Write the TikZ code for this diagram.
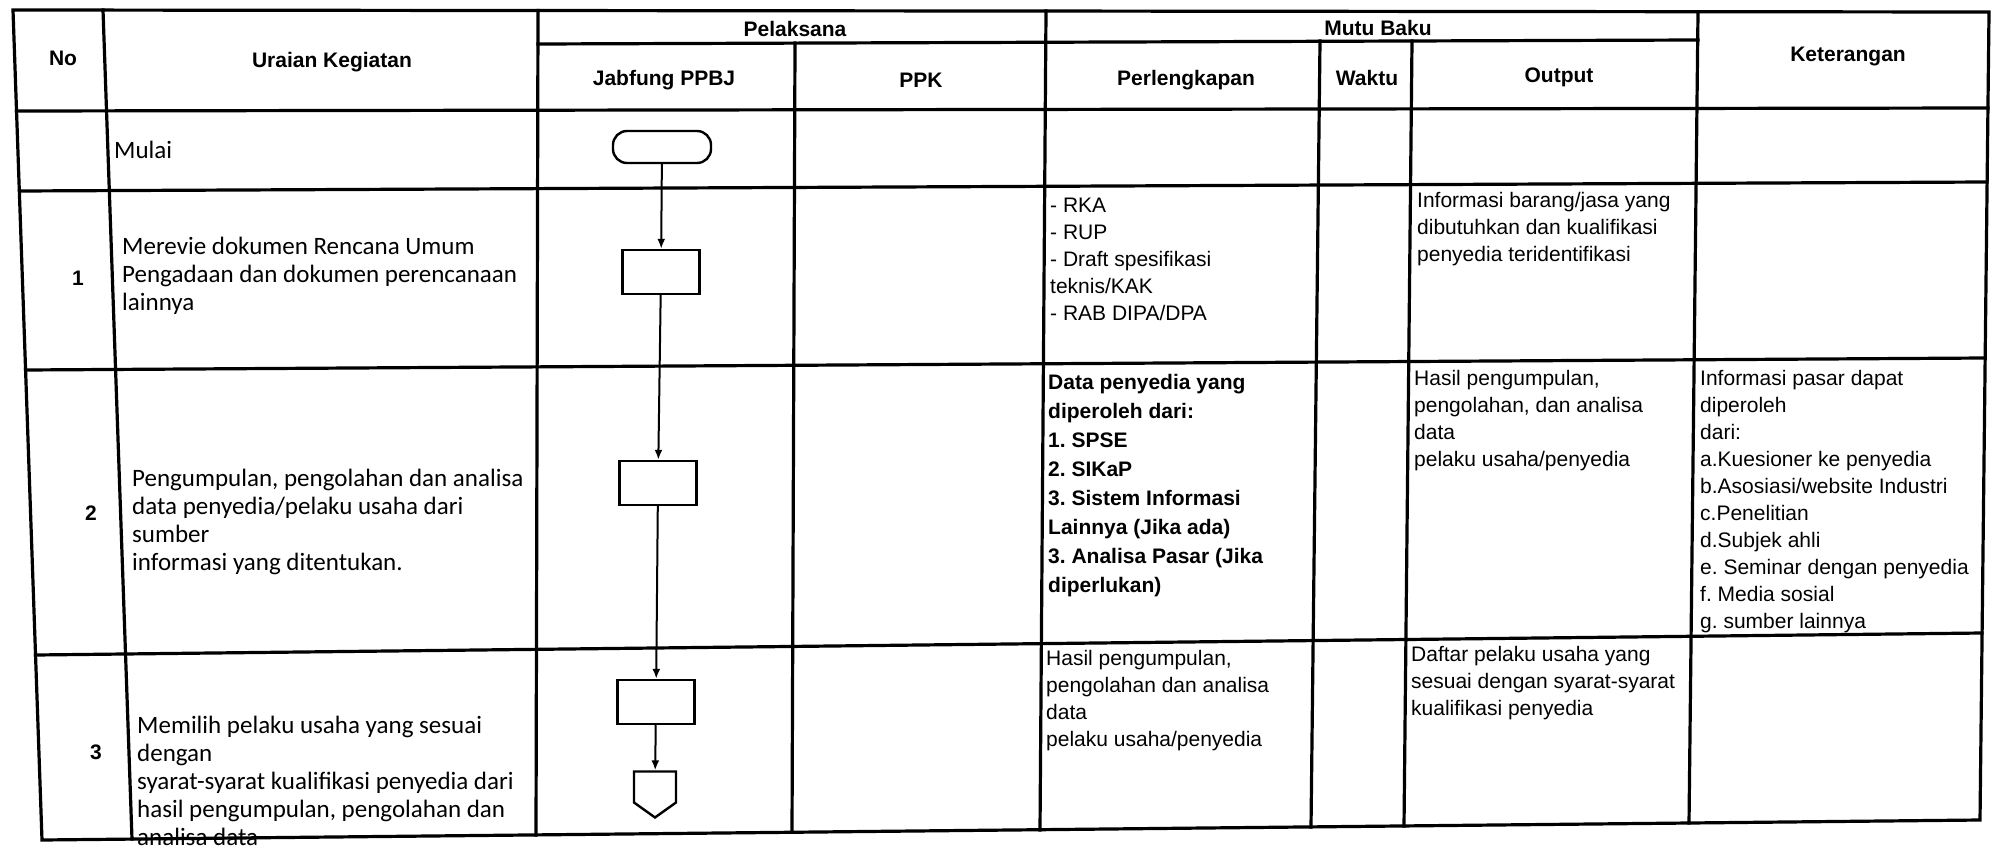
\documentclass[tikz,border=0pt]{standalone}
\usepackage{fontspec}
\setmainfont{Liberation Sans}
\newfontfamily\urfont{Carlito}
\frenchspacing
\usetikzlibrary{backgrounds}
\usetikzlibrary{shapes.symbols}
\usetikzlibrary{arrows.meta}
\newcommand{\tblxat}{13}
\newcommand{\tblxab}{42}
\newcommand{\tblxbt}{103}
\newcommand{\tblxbb}{132}
\newcommand{\tblxct}{538}
\newcommand{\tblxcb}{536}
\newcommand{\tblxdt}{795}
\newcommand{\tblxdb}{792}
\newcommand{\tblxet}{1046}
\newcommand{\tblxeb}{1040}
\newcommand{\tblxft}{1320}
\newcommand{\tblxfb}{1311}
\newcommand{\tblxgt}{1412}
\newcommand{\tblxgb}{1404}
\newcommand{\tblxht}{1698}
\newcommand{\tblxhb}{1689}
\newcommand{\tblxit}{1989}
\newcommand{\tblxib}{1980}
\newcommand{\tblyal}{10}
\newcommand{\tblyar}{12}
\newcommand{\tblybl}{44}
\newcommand{\tblybr}{40}
\newcommand{\tblycl}{111}
\newcommand{\tblycr}{108}
\newcommand{\tblydl}{191}
\newcommand{\tblydr}{182}
\newcommand{\tblyel}{370}
\newcommand{\tblyer}{358}
\newcommand{\tblyfl}{655}
\newcommand{\tblyfr}{633}
\newcommand{\tblygl}{840}
\newcommand{\tblygr}{820}
\tikzset{
  hdr/.style={font=\bfseries\fontsize{21}{25}\selectfont, inner sep=0pt},
  nocell/.style={font=\bfseries\fontsize{21}{25}\selectfont, inner sep=0pt},
  cell/.style={anchor=north west, align=left, inner sep=0pt,
    font=\fontsize{21}{27}\selectfont},
  cellb/.style={cell, font=\bfseries\fontsize{21}{29}\selectfont},
  urcell/.style={anchor=north west, align=left, inner sep=0pt,
    font=\urfont\fontsize{25}{28}\selectfont},
  flwbox/.style={draw, line width=2.4pt, minimum width=77pt,
    minimum height=44pt, inner sep=0pt},
  flwterm/.style={flwbox, minimum width=98pt, minimum height=32pt,
    rounded corners=14pt},
  flwconn/.style={draw, line width=2.4pt, signal, signal to=south,
    signal pointer angle=109, minimum width=42pt, minimum height=31pt,
    inner sep=0pt},
  flwarr/.style={-{Latex[length=10pt,width=8pt]}, line width=2pt},
  tblline/.style={line width=3.2pt, line cap=rect}
}
\begin{document}
\begin{tikzpicture}[x=1pt,y=-1pt,font=\fontsize{21}{27}\selectfont]
    \useasboundingbox (0,0) rectangle (1993,848);

    \node[hdr] (hno) at (63,58) {No};
    \node[hdr] (hur) at (332,62) {Uraian Kegiatan};
    \node[hdr] (hpel) at (795,29) {Pelaksana};
    \node[hdr] (hmb) at (1378,28) {Mutu Baku};
    \node[hdr] (hjab) at (664,80) {Jabfung PPBJ};
    \node[hdr] (hppk) at (921,80) {PPK};
    \node[hdr] (hperl) at (1186,80) {Perlengkapan};
    \node[hdr] (hwkt) at (1367,78) {Waktu};
    \node[hdr] (hout) at (1559,77) {Output};
    \node[hdr] (hket) at (1848,57) {Keterangan};

    \node[nocell] (noa) at (78,278) {1};
    \node[nocell] (nob) at (91,513) {2};
    \node[nocell] (noc) at (96,752) {3};

    \node[urcell, anchor=west] (urmul) at (114,150) {Mulai};
    \node[urcell] (ura) at (122,237)
      {Merevie dokumen Rencana Umum\\Pengadaan dan dokumen perencanaan\\lainnya};
    \node[urcell] (urb) at (132,469)
      {Pengumpulan, pengolahan dan analisa\\data penyedia/pelaku usaha dari\\sumber\\informasi yang ditentukan.};
    \node[urcell] (urc) at (137,716)
      {Memilih pelaku usaha yang sesuai\\dengan\\syarat-syarat kualifikasi penyedia dari\\hasil pengumpulan, pengolahan dan\\analisa data};

    \node[cell] (plka) at (1050,198)
      {- RKA\\- RUP\\- Draft spesifikasi\\teknis/KAK\\- RAB DIPA/DPA};
    \node[cellb] (plkb) at (1048,374)
      {Data penyedia yang\\diperoleh dari:\\1. SPSE\\2. SIKaP\\3. Sistem Informasi\\Lainnya (Jika ada)\\3. Analisa Pasar (Jika\\diperlukan)};
    \node[cell] (plkc) at (1046,650)
      {Hasil pengumpulan,\\pengolahan dan analisa\\data\\pelaku usaha/penyedia};

    \node[cell] (outa) at (1417,192)
      {Informasi barang/jasa yang\\dibutuhkan dan kualifikasi\\penyedia teridentifikasi};
    \node[cell] (outb) at (1414,370)
      {Hasil pengumpulan,\\pengolahan, dan analisa\\data\\pelaku usaha/penyedia};
    \node[cell] (outc) at (1411,646)
      {Daftar pelaku usaha yang\\sesuai dengan syarat-syarat\\kualifikasi penyedia};

    \node[cell] (keta) at (1700,370)
      {Informasi pasar dapat\\diperoleh\\dari:\\a.Kuesioner ke penyedia\\b.Asosiasi/website Industri\\c.Penelitian\\d.Subjek ahli\\e. Seminar dengan penyedia\\f. Media sosial\\g. sumber lainnya};

    \node[flwterm] (mulai) at (662,147) {};
    \node[flwbox] (proca) at (661,272) {};
    \node[flwbox] (procb) at (658,483) {};
    \node[flwbox] (procc) at (656,702) {};
    \node[flwconn] (konek) at (655,787) {};

    \draw[flwarr] (mulai) -- (proca);
    \draw[flwarr] (proca) -- (procb);
    \draw[flwarr] (procb) -- (procc);
    \draw[flwarr] (procc) -- (konek);

    \begin{scope}[on background layer]
      \draw[tblline] (\tblxat,\tblyal) -- (\tblxit,\tblyar)
        -- (\tblxib,\tblygr) -- (\tblxab,\tblygl) -- cycle;
      \draw[tblline] (\tblxct,\tblybl) -- (\tblxht,\tblybr);
      \draw[tblline] (16.5,\tblycl) -- (1988,\tblycr);
      \draw[tblline] (19.6,\tblydl) -- (1987,\tblydr);
      \draw[tblline] (25.6,\tblyel) -- (1985,\tblyer);
      \draw[tblline] (35.5,\tblyfl) -- (1982,\tblyfr);
      \draw[tblline] (\tblxbt,10) -- (\tblxbb,839);
      \draw[tblline] (\tblxct,10.5) -- (\tblxcb,835);
      \draw[tblline] (\tblxdt,43) -- (\tblxdb,832);
      \draw[tblline] (\tblxet,11) -- (\tblxeb,830);
      \draw[tblline] (\tblxft,41) -- (\tblxfb,827);
      \draw[tblline] (\tblxgt,41) -- (\tblxgb,826);
      \draw[tblline] (\tblxht,11.7) -- (\tblxhb,823);
    \end{scope}
  \end{tikzpicture}
\end{document}
